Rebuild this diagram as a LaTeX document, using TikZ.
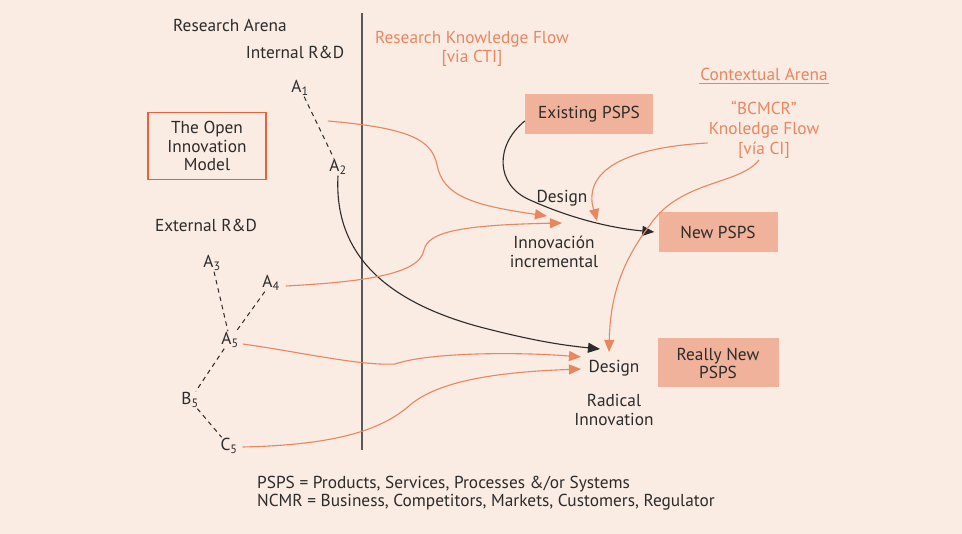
\documentclass[tikz,border=0pt]{standalone}
\usepackage{fontspec}
\setmainfont{PT Sans}
\usetikzlibrary{arrows.meta, positioning}
\definecolor{bgpeach}{HTML}{FAEBE3}
\definecolor{flow}{HTML}{E8875F}
\definecolor{boxfill}{HTML}{F0B29A}
\definecolor{boxline}{HTML}{E2643E}
\definecolor{ink}{HTML}{2B2B2B}

\begin{document}
\begin{tikzpicture}[x=1pt, y=-1pt, font=\fontsize{17.3}{19}\selectfont, text=ink,
    lbl/.style={inner sep=1pt, align=center},
    pbox/.style={fill=boxfill, minimum height=40pt, align=center, inner sep=2pt},
    orflow/.style={flow, line width=1.1pt, -{Triangle[length=12pt, width=10pt]}},
    blflow/.style={ink, line width=1.1pt, -{Triangle[length=12pt, width=10pt]}},
    link/.style={ink, line width=1pt, dash pattern=on 4.5pt off 4pt}]
        % Background
        \fill[bgpeach] (0,0) rectangle (962,534);
        \useasboundingbox (0,0) rectangle (962,534);
        % Divider
        \coordinate (top) at (362,13);
        \coordinate (bot) at (362,450);
        \draw[line width=1.6pt, black!65] (top) -- (bot);
        % Research arena
        \node[lbl] (arena) at (230,25) {Research Arena};
        \node[lbl] (internal) at (295,52) {Internal R\&D};
        \node[lbl] (external) at (206,225) {External R\&D};
        \node[draw=boxline, line width=1.2pt, minimum width=118pt, minimum height=67pt, align=center,
            font=\fontsize{17.3}{18.5}\selectfont] (model) at (207,146) {The Open\\Innovation\\Model};
        \node[lbl] (a1) at (300,88) {A\textsubscript{1}};
        \node[lbl] (a2) at (338,167) {A\textsubscript{2}};
        \node[lbl] (a3) at (212,263) {A\textsubscript{3}};
        \node[lbl] (a4) at (271,283) {A\textsubscript{4}};
        \node[lbl] (a5) at (230,340) {A\textsubscript{5}};
        \node[lbl] (b5) at (190,400) {B\textsubscript{5}};
        \node[lbl] (c5) at (229,446) {C\textsubscript{5}};
        \draw[link] (a1) -- (a2);
        \draw[link] (a3) -- (a5);
        \draw[link] (a4) -- (a5);
        \draw[link] (a5) -- (b5);
        \draw[link] (b5) -- (c5);
        % Flows and arenas
        \node[lbl, text=flow] (rkf) at (472,49) {Research Knowledge Flow\\{}[via CTI]};
        \node[lbl, text=flow] (ctx) at (764,74) {Contextual Arena};
        \draw[flow, line width=1.4pt] ([yshift=-2pt]ctx.south west) -- ([yshift=-2pt]ctx.south east);
        \node[lbl, text=flow, font=\fontsize{17.3}{20}\selectfont] (bcmcr) at (764,130) {“BCMCR”\\Knoledge Flow\\{}[vía CI]};
        % PSPS boxes
        \node[pbox, minimum width=128pt] (exist) at (589,114) {Existing PSPS};
        \node[pbox, minimum width=119pt] (new) at (718,232) {New PSPS};
        \node[pbox, minimum width=121pt, minimum height=49pt, font=\fontsize{17.3}{18}\selectfont] (really) at (718,363) {Really New\\PSPS};
        % Design labels
        \node[lbl] (design1) at (562,198) {Design};
        \node[lbl] (incr) at (554,252) {Innovación\\incremental};
        \node[lbl] (design2) at (614,368) {Design};
        \node[lbl] (radical) at (614,410) {Radical\\Innovation};
        % Arrow ends
        \coordinate (a1in) at (547,216);
        \coordinate (a4in) at (562,223);
        \coordinate (ctxin) at (597,221);
        \coordinate (a2in) at (600,349);
        \coordinate (ciin) at (609,352);
        \coordinate (a5in) at (581,357);
        \coordinate (c5in) at (581,369);
        % Black connectors
        \draw[blflow] ([yshift=-7pt]exist.west) .. controls (495,145) and (495,185) .. (530,200)
            .. controls (570,218) and (610,228) .. ([xshift=-4pt]new.west);
        \draw[blflow] (a2.south) .. controls (334,250) and (380,300) .. (480,327)
            .. controls (530,340) and (560,345) .. (a2in);
        % Orange connectors
        \draw[orflow] ([xshift=18pt, yshift=-33pt]a1.east) .. controls (410,128) and (432,140) .. (437,165)
            .. controls (443,195) and (470,205) .. (a1in);
        \draw[orflow] ([xshift=5pt, yshift=-3pt]a4.east) .. controls (360,282) and (420,275) .. (424,250)
            .. controls (428,232) and (460,225) .. (a4in);
        \draw[orflow] ([xshift=3pt, yshift=-4pt]a5.east) .. controls (300,352) and (360,366) .. (395,364)
            .. controls (430,352) and (520,352) .. (a5in);
        \draw[orflow] ([xshift=4pt, yshift=-1pt]c5.east) .. controls (330,445) and (380,432) .. (410,405)
            .. controls (440,380) and (500,372) .. (c5in);
        \draw[orflow] ([yshift=-13pt]bcmcr.west) .. controls (650,146) and (595,160) .. (592,195)
            .. controls (591,205) and (595,213) .. (ctxin);
        \draw[orflow] ([xshift=-5pt]bcmcr.south) .. controls (740,185) and (680,180) .. (650,225)
            .. controls (615,270) and (610,310) .. (ciin);
        % Key
        \node[lbl, align=left, anchor=west, font=\fontsize{17.3}{18}\selectfont] (key) at (256,493) {PSPS = Products, Services, Processes \&/or Systems\\NCMR = Business, Competitors, Markets, Customers, Regulator};
    \end{tikzpicture}
\end{document}
